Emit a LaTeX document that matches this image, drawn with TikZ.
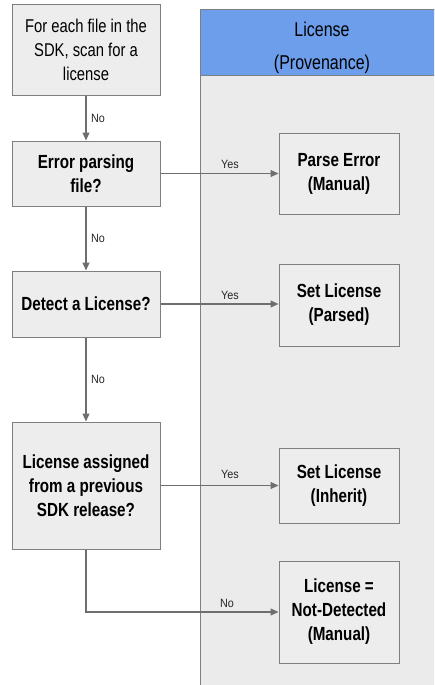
\documentclass[tikz,border=0pt]{standalone}
\usepackage{fontspec}
\setmainfont{Liberation Sans}[FakeStretch=0.8]
\newfontfamily\labelfont{Liberation Sans}[FakeStretch=0.9]
\usetikzlibrary{arrows.meta}

\definecolor{boxfill}{HTML}{EDEDED}
\definecolor{lanefill}{HTML}{EBEBEB}
\definecolor{edgegray}{HTML}{7F7F7F}
\definecolor{headerblue}{HTML}{6D9EEB}
\definecolor{flowgray}{HTML}{6E6E6E}

\tikzset{
  box/.style={draw=edgegray, line width=1pt, fill=boxfill, align=center,
    inner sep=0pt, font=\fontsize{19}{24}\selectfont\bfseries},
  plainbox/.style={box, font=\fontsize{18.5}{24}\selectfont},
  flow/.style={draw=flowgray, line width=1.1pt, -{Triangle[length=8pt,width=7pt]}},
  lbl/.style={font=\labelfont\fontsize{12}{14}\selectfont, inner sep=0pt, text=black!85},
}

\begin{document}
\begin{tikzpicture}[x=1pt, y=-1pt]
  \useasboundingbox (0,0) rectangle (434,685);
  \clip (0,0) rectangle (434,685);

  % swimlane on the right
  \node[fill=lanefill, draw=edgegray, line width=1pt, inner sep=0pt,
        minimum width=250pt, minimum height=690pt, anchor=north west] (lane) at (200,9) {};
  \node[fill=headerblue, draw=edgegray, line width=1pt, inner sep=0pt,
        minimum width=250pt, minimum height=66pt, anchor=north west] (hdr) at (200,9) {};
  \node[align=center, font=\fontsize{20}{33}\selectfont] (hdrtext) at (322,47.5) {License\\(Provenance)};

  % decision column
  \node[plainbox, minimum width=148pt, minimum height=90pt] (scan) at (86,50)
    {For each file in the\\SDK, scan for a\\license};
  \node[box, minimum width=148pt, minimum height=65pt] (err) at (86,173.5)
    {Error parsing\\file?};
  \node[box, minimum width=148pt, minimum height=66pt] (det) at (86,304)
    {Detect a License?};
  \node[box, minimum width=148pt, minimum height=127pt] (prev) at (86,485.5)
    {License assigned\\from a previous\\SDK release?};

  % outcomes
  \node[box, minimum width=120pt, minimum height=81pt] (perr) at (339,173.5)
    {Parse Error\\(Manual)};
  \node[box, minimum width=120pt, minimum height=82pt] (parsed) at (339,305)
    {Set License\\(Parsed)};
  \node[box, minimum width=120pt, minimum height=75pt] (inh) at (339,485.5)
    {Set License\\(Inherit)};
  \node[box, minimum width=120pt, minimum height=102pt] (nodet) at (339,612)
    {License =\\Not-Detected\\(Manual)};

  % connectors
  \draw[flow] (scan.south) -- (err.north);
  \draw[flow] (err.south) -- (det.north);
  \draw[flow] (det.south) -- (prev.north);
  \draw[flow] (err.east) -- (err.east -| perr.west);
  \draw[flow] (det.east) -- (det.east -| parsed.west);
  \draw[flow] (prev.east) -- (prev.east -| inh.west);
  \draw[flow] (prev.south) |- (nodet.west);

  % connector labels
  \node[lbl, anchor=west] (n1) at (91,118) {No};
  \node[lbl, anchor=west] (n2) at (91,238) {No};
  \node[lbl, anchor=west] (n3) at (91,379) {No};
  \node[lbl] (y1) at (230,164) {Yes};
  \node[lbl] (y2) at (230,295) {Yes};
  \node[lbl] (y3) at (230,474) {Yes};
  \node[lbl] (n4) at (227,603) {No};
\end{tikzpicture}
\end{document}
